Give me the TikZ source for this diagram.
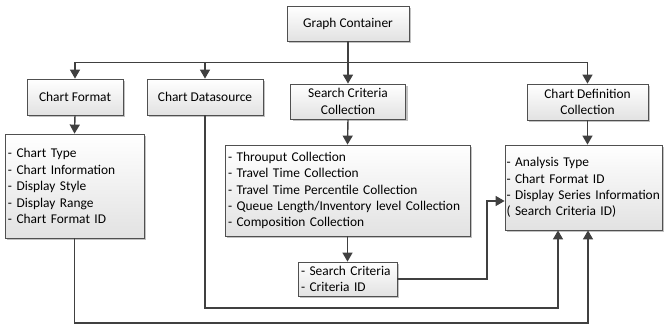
\documentclass[tikz,border=0pt]{standalone}
\usepackage{fontspec}
\setmainfont{Carlito}
\usetikzlibrary{arrows.meta,shadows}
\definecolor{linegray}{HTML}{404040}
\definecolor{edgegray}{HTML}{505050}
\definecolor{boxbottom}{HTML}{E2E2E2}
\begin{document}
\begin{tikzpicture}[x=1pt,y=-1pt,
  every node/.style={font=\fontsize{13.4}{16.4}\selectfont},
  box/.style={draw=edgegray, line width=0.8pt, top color=white, bottom color=boxbottom,
    drop shadow={shadow xshift=2pt, shadow yshift=-2pt, fill=black!40, opacity=0.6},
    inner xsep=0pt, inner ysep=0pt, align=center},
  listbox/.style={box, align=left, inner xsep=3pt,
    execute at begin node={\hyphenpenalty=10000\exhyphenpenalty=10000\hbadness=10000}},
  arr/.style={draw=linegray, line width=1.4pt, -{Triangle[length=9pt,width=10pt]}}]
\useasboundingbox (0,0) rectangle (664,327);

% top level
\node[box, minimum width=122pt, minimum height=35pt] (gc) at (348,23.5) {Graph Container};

% second level
\node[box, minimum width=96pt, minimum height=36pt] (cf) at (75,97) {Chart Format};
\node[box, minimum width=116pt, minimum height=36pt] (cds) at (205,97) {Chart Datasource};
\node[box, minimum width=115pt, minimum height=35pt] (scc) at (348,101.5) {Search Criteria\\Collection};
\node[box, minimum width=121pt, minimum height=36pt] (cdc) at (587.5,102) {Chart Definition\\Collection};

% detail lists
\node[listbox, text width=133pt, minimum height=104pt] (cfl) at (74.5,186)
  {- Chart Type\\- Chart Information\\- Display Style\\- Display Range\\- Chart Format ID};
\node[listbox, text width=239pt, minimum height=91pt] (scl) at (347.5,190.5)
  {- Throuput Collection\\- Travel Time Collection\\- Travel Time Percentile Collection\\- Queue Length/Inventory level Collection\\- Composition Collection};
\node[listbox, text width=154pt, inner xsep=1.5pt, minimum height=85pt] (cdl) at (583.5,187.5)
  {- Analysis Type\\- Chart Format ID\\\mbox{- Display Series Information}\\( Search Criteria ID)};
\node[listbox, text width=93pt, minimum height=34pt] (sc) at (347.5,279)
  {- Search Criteria\\- Criteria ID};

% junction points
\coordinate (bus) at (348,62.5);
\coordinate (j1) at (487,201);
\coordinate (r1) at (558,308);
\coordinate (r2) at (588,323);

% container to its parts
\draw[arr] (gc.south) -- (scc.north);
\draw[arr] (bus) -| (cf.north);
\draw[arr] (bus) -| (cds.north);
\draw[arr] (bus) -| (cdc.north);

% parts to their details
\draw[arr] (cf.south) -- (cfl.north);
\draw[arr] (scc.south) -- (scl.north);
\draw[arr] (cdc.south) -- (cdc.south |- cdl.north);
\draw[arr] (scl.south) -- (sc.north);

% references into the chart definition
\draw[arr] (sc.east) -| (j1) -- (j1 -| cdl.west);
\draw[arr] (cds.south) |- (r1) -- (r1 |- cdl.south);
\draw[arr] (cfl.south) |- (r2) -- (r2 |- cdl.south);
\end{tikzpicture}
\end{document}
